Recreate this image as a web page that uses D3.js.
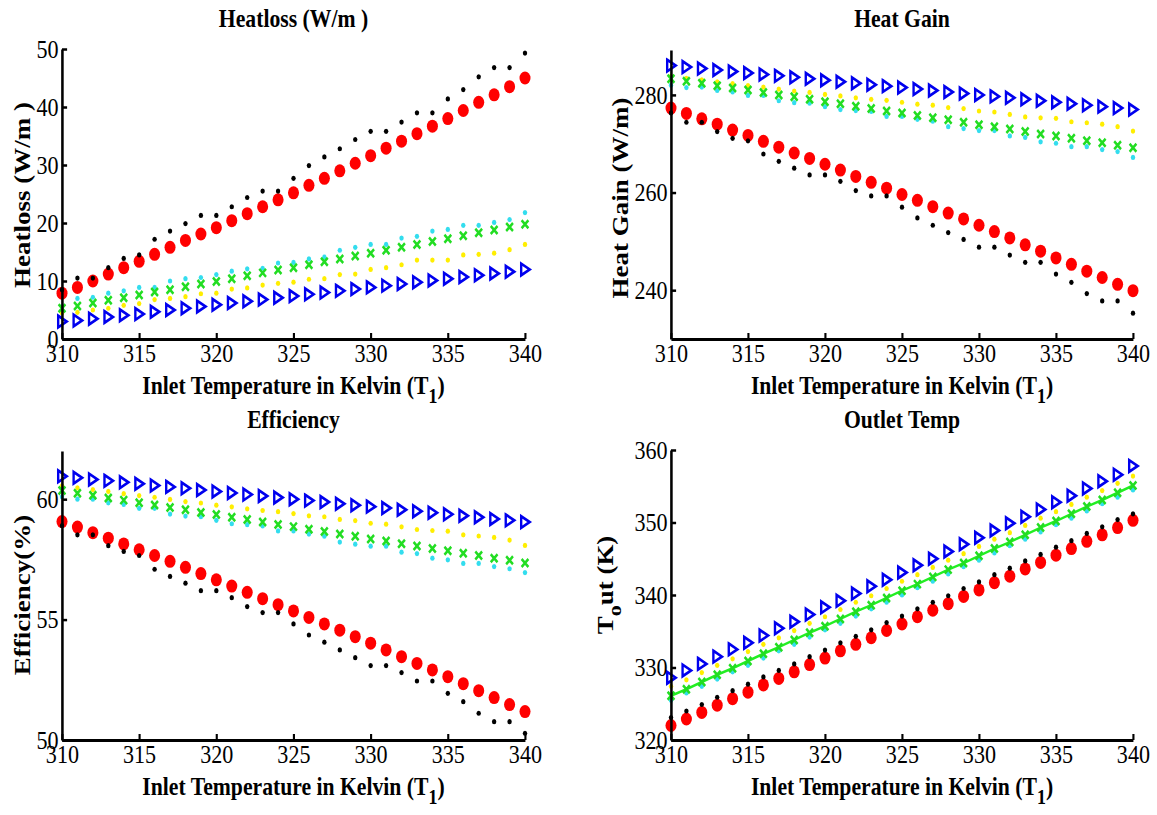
<!DOCTYPE html>
<html lang="en">
<head>
    <meta charset="UTF-8">
    <title>Heatloss / Heat Gain / Efficiency / Outlet Temp</title>
    <script src="https://d3js.org/d3.v7.min.js"></script>
    <style>
        body { margin: 0; background: #fff; }
        svg { display: block; }
        text { font-family: "Liberation Serif", "Times New Roman", serif; fill: #000; }
        .tick-label { font-size: 26px; }
        .title { font-size: 25.5px; font-weight: bold; text-anchor: middle; }
        .xlabel { font-size: 25.5px; font-weight: bold; text-anchor: middle; }
        .ylabel { font-size: 27px; font-weight: bold; text-anchor: middle; }
    </style>
</head>
<body>
<script>

    // inlet temperature (x values)
    var inletTemp = [310,311,312,313,314,315,316,317,318,319,320,321,322,323,324,325,326,327,328,329,330,331,332,333,334,335,336,337,338,339,340];

    // Heatloss (W/m)
    var hlBlack  = [8.5,10.5,10.5,12.3,13.9,14.5,17.2,18.6,19.9,21.3,21.3,22.8,24.4,25.5,25.5,27.7,29.9,31.4,32.8,34.4,35.8,35.8,37.4,39.0,39.0,41.4,43.0,45.2,46.8,46.8,49.3];
    var hlRed    = [7.9,8.9,10.0,11.2,12.3,13.4,14.6,15.8,17.0,18.1,19.2,20.4,21.6,22.8,24.0,25.2,26.5,27.7,29.0,30.3,31.6,32.9,34.1,35.4,36.7,38.0,39.4,40.8,42.1,43.5,45.0];
    var hlYellow = [4.5,4.6,5.0,5.3,5.8,6.1,6.8,7.0,7.3,7.8,7.9,8.6,8.8,9.3,9.6,9.8,10.3,10.4,11.1,11.2,12.0,12.3,12.8,13.6,13.6,13.6,14.5,14.6,14.8,15.4,16.3];
    var hlCyan   = [5.6,7.0,7.2,7.9,8.3,8.9,8.9,10.0,10.4,10.6,11.1,11.7,12.1,12.2,13.1,13.2,13.8,14.1,15.3,15.8,16.3,16.3,17.4,17.7,18.6,18.9,19.6,19.6,20.1,20.6,21.8];
    var hlGreen  = [5.3,5.7,6.2,6.7,7.1,7.6,8.1,8.5,9.0,9.5,9.9,10.4,10.9,11.4,11.9,12.3,12.8,13.3,13.8,14.3,14.8,15.3,15.8,16.3,16.8,17.3,17.8,18.3,18.8,19.3,19.8];
    var hlBlue   = [3.0,3.2,3.5,3.8,4.1,4.3,4.7,5.0,5.3,5.6,5.9,6.2,6.5,6.8,7.1,7.4,7.7,8.0,8.3,8.6,8.9,9.2,9.5,9.8,10.1,10.4,10.7,11.0,11.3,11.6,12.0];

    // Heat Gain (W/m)
    var hgBlack  = [276.3,274.4,274.4,272.5,271.1,270.6,267.9,266.4,265.0,263.6,263.6,262.3,260.4,259.3,259.3,257.0,254.8,253.3,251.8,250.4,248.8,248.8,247.2,245.7,245.7,243.3,241.6,239.3,237.8,237.8,235.3];
    var hgRed    = [277.3,276.2,275.1,274.0,272.8,271.7,270.5,269.3,268.1,267.0,265.8,264.6,263.3,262.1,260.9,259.6,258.4,257.1,255.8,254.6,253.3,252.0,250.7,249.3,248.0,246.6,245.3,243.9,242.6,241.2,239.9];
    var hgYellow = [283.8,283.4,283.1,282.7,282.3,281.9,281.6,281.2,280.8,280.5,280.1,279.8,279.4,279.1,278.9,278.5,278.1,277.9,277.4,277.2,276.7,276.5,276.0,275.5,275.3,275.2,274.5,274.3,274.0,273.5,272.6];
    var hgCyan   = [282.0,281.5,281.6,280.9,280.6,279.9,279.9,278.8,278.4,278.3,277.6,277.0,276.8,276.6,275.6,275.6,275.0,274.6,273.5,273.1,272.7,272.7,271.6,271.3,270.4,270.1,269.4,269.4,268.8,268.4,267.2];
    var hgGreen  = [283.3,282.8,282.4,281.9,281.4,281.0,280.5,280.0,279.6,279.1,278.6,278.2,277.7,277.2,276.7,276.3,275.8,275.3,274.9,274.4,273.9,273.5,273.0,272.5,272.0,271.6,271.1,270.6,270.2,269.7,269.2];
    var hgBlue   = [286.0,285.7,285.4,285.1,284.8,284.5,284.2,283.9,283.6,283.3,283.0,282.7,282.4,282.1,281.8,281.5,281.2,280.9,280.6,280.3,280.0,279.7,279.4,279.1,278.8,278.5,278.2,277.9,277.6,277.3,277.0];

    // Efficiency (%)
    var efBlack  = [58.9,58.52,58.52,58.07,57.83,57.66,57.09,56.79,56.51,56.2,56.2,55.91,55.54,55.29,55.29,54.82,54.36,54.06,53.74,53.42,53.09,53.09,52.8,52.45,52.45,51.94,51.59,51.11,50.76,50.76,50.28];
    var efRed    = [59.07,58.84,58.61,58.38,58.14,57.9,57.66,57.42,57.17,56.91,56.65,56.39,56.13,55.87,55.62,55.36,55.09,54.82,54.56,54.29,54.02,53.74,53.46,53.18,52.91,52.63,52.34,52.05,51.76,51.47,51.18];
    var efYellow = [60.55,60.47,60.4,60.32,60.23,60.15,60.08,59.99,59.9,59.84,59.75,59.68,59.6,59.53,59.48,59.4,59.31,59.27,59.16,59.11,59.0,58.96,58.85,58.74,58.7,58.67,58.52,58.47,58.41,58.3,58.08];
    var efCyan   = [60.1,60.0,60.0,59.85,59.78,59.62,59.62,59.38,59.3,59.27,59.12,58.98,58.94,58.89,58.68,58.68,58.55,58.46,58.22,58.13,58.05,58.05,57.8,57.74,57.55,57.48,57.33,57.33,57.2,57.11,56.95];
    var efGreen  = [60.36,60.25,60.16,60.05,59.96,59.85,59.76,59.65,59.56,59.45,59.36,59.25,59.16,59.05,58.95,58.86,58.75,58.66,58.55,58.46,58.35,58.26,58.15,58.06,57.95,57.86,57.75,57.66,57.55,57.46,57.35];
    var efBlue   = [60.95,60.89,60.82,60.76,60.7,60.64,60.57,60.51,60.45,60.38,60.32,60.26,60.19,60.13,60.07,60.0,59.94,59.88,59.81,59.75,59.69,59.63,59.56,59.5,59.44,59.37,59.31,59.25,59.18,59.12,59.05];

    // Outlet Temp (K)
    var otBlack  = [323.1,324.0,324.9,325.9,326.8,327.7,328.7,329.6,330.5,331.5,332.4,333.4,334.3,335.2,336.2,337.1,338.1,339.0,339.9,340.9,341.8,342.8,343.7,344.7,345.6,346.6,347.5,348.5,349.4,350.4,351.2];
    var otRed    = [322.0,322.9,323.8,324.8,325.7,326.6,327.6,328.5,329.4,330.4,331.3,332.3,333.2,334.1,335.1,336.0,337.0,337.9,338.8,339.8,340.7,341.7,342.6,343.6,344.5,345.5,346.4,347.4,348.3,349.3,350.3];
    var otYellow = [327.4,328.3,329.3,330.3,331.2,332.2,333.2,334.1,335.1,336.1,337.0,338.0,339.0,339.9,340.9,341.9,342.8,343.8,344.8,345.7,346.7,347.7,348.6,349.6,350.6,351.5,352.5,353.5,354.4,355.4,356.4];
    var otCyan   = [325.5,326.5,327.4,328.4,329.4,330.3,331.3,332.3,333.2,334.2,335.2,336.1,337.1,338.1,339.0,340.0,341.0,341.9,342.9,343.9,344.8,345.8,346.8,347.7,348.7,349.7,350.6,351.6,352.6,353.5,354.5];
    var otGreen  = [326.1,327.0,328.0,329.0,329.9,330.9,331.9,332.8,333.8,334.8,335.7,336.7,337.7,338.6,339.6,340.6,341.5,342.5,343.5,344.4,345.4,346.4,347.3,348.3,349.3,350.2,351.2,352.2,353.1,354.1,355.1];
    var otBlue   = [328.6,329.6,330.5,331.5,332.5,333.4,334.4,335.4,336.3,337.3,338.3,339.2,340.2,341.2,342.1,343.1,344.1,345.0,346.0,347.0,347.9,348.9,349.9,350.8,351.8,352.8,353.7,354.7,355.7,356.6,357.8];

    // tick labels
    var xTicks  = [310,315,320,325,330,335,340];
    var hlTicks = [0,10,20,30,40,50];
    var hgTicks = [240,260,280];
    var efTicks = [50,55,60];
    var otTicks = [320,330,340,350,360];

    var w = 1157;
    var h = 815;
    var sx = 0.85;   // the original figure is squashed horizontally

    var svg = d3.select('body')
        .append('svg')
        .attr('width', w)
        .attr('height', h);

    svg.append('rect').attr('width', w).attr('height', h).attr('fill', '#fff');

    var root = svg.append('g')
        .attr('transform', 'scale(' + sx + ',1)');

    function drawPanel(p) {
        var g = root.append('g');

        var xScale = d3.scaleLinear()
            .domain([310, 340])
            .range([p.left / sx, p.right / sx]);

        var yScale = d3.scaleLinear()
            .domain(p.yDomain)
            .range([p.bottom, p.top]);

        // series, drawn back to front
        function dots(values, color, r) {
            g.append('g').selectAll('circle')
                .data(values)
                .enter()
                .append('circle')
                .attr('cx', function (d, i) { return xScale(inletTemp[i]); })
                .attr('cy', function (d) { return yScale(d); })
                .attr('r', r)
                .attr('fill', color);
        }

        dots(p.red, '#ff0000', 6.5);
        dots(p.black, '#000000', 2.6);
        dots(p.yellow, '#ffee00', 2.6);
        dots(p.cyan, '#33ddee', 2.6);

        if (p.greenLine) {
            g.append('path')
                .datum(p.green)
                .attr('fill', 'none')
                .attr('stroke', '#22ee22')
                .attr('stroke-width', 2.5)
                .attr('d', d3.line()
                    .x(function (d, i) { return xScale(inletTemp[i]); })
                    .y(function (d) { return yScale(d); }));
        }

        g.append('g').selectAll('path')
            .data(p.green)
            .enter()
            .append('path')
            .attr('transform', function (d, i) {
                return 'translate(' + xScale(inletTemp[i]) + ',' + yScale(d) + ')';
            })
            .attr('d', 'M-4,-4L4,4M-4,4L4,-4')
            .attr('stroke', '#22dd22')
            .attr('stroke-width', 2.8)
            .attr('fill', 'none');

        g.append('g').selectAll('path')
            .data(p.blue)
            .enter()
            .append('path')
            .attr('transform', function (d, i) {
                return 'translate(' + xScale(inletTemp[i]) + ',' + yScale(d) + ')';
            })
            .attr('d', 'M-4.5,-5.8L5.5,0L-4.5,5.8Z')
            .attr('stroke', '#0000ee')
            .attr('stroke-width', 2.8)
            .attr('fill', 'none');

        // axes, ticks pointing inward
        var xAxis = d3.axisBottom(xScale)
            .tickValues(xTicks)
            .tickSizeInner(-6)
            .tickSizeOuter(0)
            .tickPadding(5);

        var yAxis = d3.axisLeft(yScale)
            .tickValues(p.yTicks)
            .tickSizeInner(-6)
            .tickSizeOuter(0)
            .tickPadding(4);

        var gx = g.append('g')
            .attr('transform', 'translate(0,' + p.bottom + ')')
            .call(xAxis);

        var gy = g.append('g')
            .attr('transform', 'translate(' + (p.left / sx) + ',0)')
            .call(yAxis);

        [gx, gy].forEach(function (a) {
            a.attr('font-family', null).attr('font-size', null);
            a.select('.domain').attr('stroke', '#000').attr('stroke-width', 3);
            a.selectAll('.tick line').attr('stroke', '#000').attr('stroke-width', 2.5);
            a.selectAll('.tick text').attr('class', 'tick-label');
        });

        // title
        g.append('text')
            .attr('class', 'title')
            .attr('x', (p.left + p.right) / 2 / sx)
            .attr('y', p.titleY)
            .text(p.title);

        // x label with subscript
        var xl = g.append('text')
            .attr('class', 'xlabel')
            .attr('x', (p.left + p.right) / 2 / sx)
            .attr('y', p.bottom + 55);
        xl.append('tspan').text('Inlet Temperature in Kelvin (T');
        xl.append('tspan').attr('dy', 9).attr('font-size', 21).text('1');
        xl.append('tspan').attr('dy', -9).text(')');

        // y label
        var yl = g.append('text')
            .attr('class', 'ylabel')
            .attr('transform', 'translate(' + (p.yLabelX / sx) + ',' + p.yLabelY + ') rotate(-90)');
        if (p.yLabelSub) {
            yl.append('tspan').text(p.yLabel[0]);
            yl.append('tspan').attr('dy', 9).attr('font-size', 22).text(p.yLabelSub);
            yl.append('tspan').attr('dy', -9).text(p.yLabel[1]);
        } else {
            yl.text(p.yLabel);
        }
    }

    drawPanel({
        left: 62, right: 525, top: 49, bottom: 339,
        yDomain: [0, 50], yTicks: hlTicks,
        title: 'Heatloss (W/m )', titleY: 27,
        yLabel: 'Heatloss (W/m )', yLabelX: 30, yLabelY: 195,
        black: hlBlack, red: hlRed, yellow: hlYellow, cyan: hlCyan, green: hlGreen, blue: hlBlue
    });

    drawPanel({
        left: 671, right: 1133, top: 50, bottom: 339,
        yDomain: [230, 289.2], yTicks: hgTicks,
        title: 'Heat Gain', titleY: 27,
        yLabel: 'Heat Gain (W/m)', yLabelX: 628, yLabelY: 198,
        black: hgBlack, red: hgRed, yellow: hgYellow, cyan: hgCyan, green: hgGreen, blue: hgBlue
    });

    drawPanel({
        left: 62, right: 525, top: 451, bottom: 740,
        yDomain: [50, 62], yTicks: efTicks,
        title: 'Efficiency', titleY: 428,
        yLabel: 'Efficiency(%)', yLabelX: 30, yLabelY: 595,
        black: efBlack, red: efRed, yellow: efYellow, cyan: efCyan, green: efGreen, blue: efBlue
    });

    drawPanel({
        left: 671, right: 1133, top: 450, bottom: 740,
        yDomain: [320, 360], yTicks: otTicks,
        title: 'Outlet Temp', titleY: 428,
        yLabel: ['T', 'ut (K)'], yLabelSub: 'o', yLabelX: 613, yLabelY: 585,
        black: otBlack, red: otRed, yellow: otYellow, cyan: otCyan, green: otGreen, blue: otBlue,
        greenLine: true
    });

</script>
</body>
</html>
